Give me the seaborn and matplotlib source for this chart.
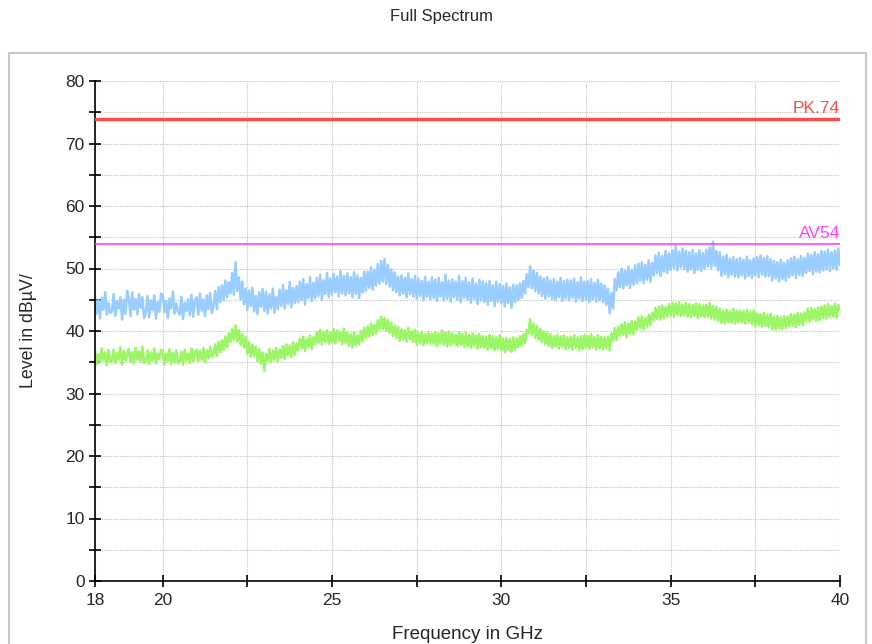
import numpy as np
import pandas as pd
import matplotlib
matplotlib.use("Agg")
import matplotlib.pyplot as plt
from matplotlib.patches import Rectangle
import seaborn as sns

# Sweep: 18 GHz to 40 GHz, 0.05 GHz per point
FREQ_START_GHZ = 18.0
FREQ_STEP_GHZ = 0.05

# Peak detector trace (dBuV), one row per 0.5 GHz
peak_dbuv = [
    45.6, 42.8, 44.9, 42.0, 45.3, 43.4, 46.2, 42.6, 44.5, 42.9,
    43.1, 45.9, 42.4, 44.7, 43.6, 45.4, 41.8, 45.0, 42.7, 46.4,
    45.3, 42.4, 46.2, 43.4, 45.1, 42.7, 45.9, 43.7, 45.4, 42.1,
    42.9, 45.6, 42.2, 44.9, 43.3, 45.7, 42.0, 44.6, 43.1, 46.0,
    45.7, 43.0, 44.8, 42.1, 45.2, 43.6, 46.3, 42.8, 44.4, 43.1,
    42.6, 45.5, 41.9, 44.5, 43.2, 45.1, 42.5, 45.8, 42.3, 44.9,
    45.4, 42.6, 46.0, 43.2, 45.0, 42.4, 45.7, 43.5, 46.1, 42.9,
    44.0, 46.4, 43.5, 47.0, 44.6, 47.3, 44.9, 48.1, 45.4, 47.8,
    46.0, 49.3, 45.8, 51.0, 46.4, 48.6, 45.1, 47.9, 44.3, 46.8,
    43.4, 46.5, 44.0, 46.9, 43.1, 45.6, 42.7, 46.2, 43.9, 46.7,
    43.2, 46.3, 42.8, 45.9, 43.6, 46.8, 42.9, 45.4, 43.5, 46.6,
    44.0, 47.4, 43.6, 46.5, 44.3, 47.8, 43.8, 46.9, 44.5, 47.2,
    44.6, 47.9, 45.0, 48.3, 44.2, 47.5, 45.3, 48.6, 44.8, 47.7,
    45.2, 48.5, 45.6, 49.0, 45.0, 48.1, 45.9, 49.3, 45.4, 48.4,
    45.8, 49.1, 46.2, 48.7, 45.5, 49.6, 46.0, 48.8, 45.7, 49.2,
    46.0, 48.6, 45.4, 49.4, 45.9, 48.9, 45.3, 48.5, 46.1, 49.5,
    46.4, 49.5, 46.9, 50.2, 46.6, 49.8, 47.3, 50.7, 47.6, 51.2,
    47.9, 51.5, 47.5, 50.6, 47.1, 49.9, 46.5, 49.4, 46.2, 48.7,
    45.7, 48.9, 46.0, 48.5, 45.4, 49.2, 45.9, 48.3, 45.5, 48.8,
    45.2, 48.4, 45.6, 48.0, 44.9, 48.7, 45.4, 47.9, 45.1, 48.6,
    45.3, 48.2, 44.8, 48.5, 45.5, 47.8, 44.9, 49.0, 45.2, 48.1,
    44.7, 48.3, 45.4, 47.9, 45.0, 48.8, 44.6, 48.0, 45.3, 48.5,
    45.0, 47.8, 44.5, 48.4, 45.1, 47.6, 44.3, 48.2, 44.9, 47.9,
    44.6, 47.7, 44.2, 48.0, 44.8, 47.3, 44.0, 47.9, 44.7, 47.5,
    44.4, 47.2, 43.9, 47.6, 44.5, 47.0, 43.7, 47.4, 44.6, 47.3,
    44.9, 47.6, 45.3, 48.0, 46.0, 49.1, 47.0, 50.4, 46.8, 49.7,
    46.4, 49.3, 46.0, 48.7, 45.6, 48.4, 45.2, 48.6, 45.5, 48.1,
    45.1, 48.3, 44.9, 47.9, 45.4, 48.5, 44.8, 48.0, 45.2, 48.2,
    44.9, 48.1, 45.3, 48.4, 44.7, 47.8, 45.2, 48.6, 44.8, 47.9,
    45.0, 48.0, 44.6, 48.3, 45.1, 47.7, 44.7, 48.2, 44.9, 47.6,
    44.6, 47.3, 44.2, 46.8, 42.8, 46.1, 43.6, 48.3, 46.5, 49.4,
    47.0, 50.0, 46.8, 49.7, 47.3, 50.3, 46.9, 49.8, 47.4, 50.5,
    47.6, 50.8, 48.0, 51.0, 47.7, 50.6, 48.2, 51.3, 47.9, 50.9,
    48.9, 52.1, 49.2, 52.5, 48.8, 52.0, 49.5, 52.8, 49.3, 52.4,
    49.8, 52.9, 50.0, 53.6, 49.7, 52.7, 50.2, 53.2, 49.9, 52.8,
    49.5, 52.6, 49.9, 53.0, 49.3, 52.4, 49.8, 52.9, 49.6, 52.5,
    50.0, 53.0, 50.3, 53.4, 50.1, 54.3, 50.4, 52.8, 49.7, 52.6,
    48.8, 51.9, 49.1, 52.2, 48.6, 51.6, 49.0, 51.8, 48.7, 51.5,
    48.6, 51.7, 48.9, 51.4, 48.4, 51.9, 48.8, 51.3, 48.5, 51.6,
    48.9, 51.8, 48.6, 52.1, 49.0, 51.7, 48.7, 52.0, 48.8, 51.5,
    48.1, 51.2, 48.4, 51.0, 47.9, 51.4, 48.3, 50.9, 48.0, 51.3,
    48.6, 51.6, 48.9, 51.9, 48.5, 51.5, 49.0, 52.0, 48.8, 51.7,
    49.3, 52.4, 49.6, 52.2, 49.1, 52.6, 49.5, 52.3, 49.4, 52.8,
    49.7, 52.7, 49.9, 53.0, 49.6, 52.6, 50.0, 52.9, 49.8, 53.2,
    50.5,
]

# Average detector trace (dBuV), one row per 0.5 GHz
average_dbuv = [
    36.9, 34.7, 36.3, 35.0, 37.2, 35.3, 36.6, 34.5, 37.0, 35.1,
    35.2, 37.0, 34.9, 36.5, 35.4, 37.4, 34.6, 36.8, 35.3, 36.4,
    37.1, 35.0, 36.6, 34.8, 37.3, 35.4, 36.7, 35.1, 37.5, 34.9,
    35.1, 36.9, 34.7, 36.6, 35.3, 37.2, 34.8, 36.4, 35.5, 37.0,
    36.8, 34.6, 36.4, 35.2, 37.1, 34.7, 36.5, 35.0, 36.9, 34.8,
    35.0, 36.7, 34.6, 37.0, 35.3, 36.4, 34.9, 37.2, 35.1, 36.6,
    37.0, 35.2, 36.8, 35.4, 37.3, 35.0, 36.9, 35.6, 37.5, 35.8,
    36.2, 37.9, 36.0, 38.3, 36.6, 38.5, 37.0, 39.1, 37.4, 39.6,
    38.2, 40.3, 38.6, 40.9, 38.3, 40.1, 37.8, 39.5, 37.4, 39.0,
    36.3, 38.2, 35.9, 37.8, 36.0, 37.5, 35.2, 37.1, 34.8, 36.6,
    33.6, 36.3, 35.2, 37.1, 35.0, 36.9, 35.4, 37.3, 35.1, 37.0,
    35.7, 37.6, 35.5, 37.9, 36.0, 37.7, 35.8, 38.2, 36.2, 38.0,
    36.9, 38.8, 37.2, 39.1, 36.8, 38.7, 37.4, 39.3, 37.1, 39.0,
    37.9, 39.8, 38.1, 40.2, 37.8, 39.9, 38.3, 40.1, 37.9, 39.7,
    38.2, 40.3, 38.0, 40.1, 38.4, 39.9, 37.9, 40.4, 38.1, 39.8,
    37.6, 39.5, 37.4, 39.8, 37.7, 39.3, 37.9, 40.0, 38.3, 40.5,
    38.8, 40.7, 39.1, 41.2, 39.4, 41.0, 39.6, 41.7, 40.2, 42.3,
    40.3, 42.1, 40.0, 41.8, 39.7, 41.3, 39.2, 40.9, 38.9, 40.6,
    38.4, 40.3, 38.6, 40.1, 38.3, 40.5, 38.7, 40.0, 38.2, 40.2,
    37.8, 39.7, 38.0, 39.9, 37.7, 39.5, 38.1, 39.8, 37.9, 39.6,
    37.9, 39.8, 37.6, 39.6, 38.0, 40.1, 37.8, 39.7, 37.5, 39.9,
    37.7, 39.6, 37.9, 39.4, 37.6, 39.8, 37.8, 39.5, 37.5, 39.7,
    37.5, 39.4, 37.3, 39.6, 37.6, 39.3, 37.2, 39.5, 37.4, 39.2,
    37.3, 39.1, 37.0, 39.4, 37.2, 39.2, 36.9, 39.0, 37.1, 39.3,
    36.9, 38.8, 36.6, 38.9, 37.0, 38.7, 36.7, 39.0, 36.9, 38.8,
    37.4, 39.2, 37.6, 39.5, 38.1, 40.2, 39.6, 41.9, 39.3, 41.2,
    38.9, 40.8, 38.6, 40.3, 38.2, 39.9, 37.9, 39.8, 37.6, 39.5,
    37.3, 39.2, 37.5, 39.4, 37.2, 39.1, 37.4, 39.3, 37.1, 39.0,
    37.2, 39.1, 37.0, 39.3, 37.3, 39.0, 36.9, 39.2, 37.1, 39.4,
    37.3, 39.2, 37.1, 39.5, 37.4, 39.0, 37.0, 39.3, 37.2, 39.1,
    37.0, 39.0, 37.2, 39.1, 36.9, 39.6, 38.4, 40.5, 38.6, 40.7,
    39.2, 41.1, 39.4, 41.4, 39.0, 41.2, 39.6, 41.6, 39.5, 41.5,
    40.2, 42.2, 40.5, 42.4, 40.3, 42.1, 40.7, 42.6, 40.9, 42.9,
    41.7, 43.7, 41.9, 43.9, 41.8, 44.1, 42.0, 43.8, 42.3, 44.3,
    42.5, 44.5, 42.3, 44.4, 42.6, 44.6, 42.4, 44.2, 42.5, 44.5,
    42.3, 44.3, 42.2, 44.2, 42.4, 44.4, 42.1, 44.3, 42.3, 44.1,
    42.2, 44.2, 42.3, 44.5, 42.0, 44.0, 41.8, 43.9, 41.6, 43.6,
    41.3, 43.3, 41.2, 43.4, 41.4, 43.2, 41.3, 43.5, 41.2, 43.3,
    41.3, 43.3, 41.4, 43.2, 41.2, 43.4, 41.3, 43.1, 41.1, 43.3,
    40.8, 42.8, 40.9, 42.7, 40.7, 42.9, 40.8, 42.6, 40.6, 42.8,
    40.3, 42.3, 40.2, 42.4, 40.4, 42.2, 40.3, 42.4, 40.5, 42.3,
    40.7, 42.7, 40.8, 42.6, 40.6, 42.9, 41.0, 42.8, 40.9, 43.0,
    41.6, 43.6, 41.5, 43.7, 41.8, 43.5, 41.6, 43.8, 41.7, 43.9,
    42.1, 44.1, 42.0, 44.3, 42.2, 44.0, 42.3, 44.4, 42.1, 44.2,
    43.4,
]

# Limit lines
limit_names = ["PK.74", "AV54"]
limit_levels = [74, 54]
limit_colors = ["#FF4B4B", "#FF44FF"]
limit_widths = [2.4, 1.2]

x_ticks = [18, 20, 22.5, 25, 27.5, 30, 32.5, 35, 37.5, 40]
x_tick_labels = ["18", "20", "", "25", "", "30", "", "35", "", "40"]
y_major = [0, 10, 20, 30, 40, 50, 60, 70, 80]
y_minor = [5, 15, 25, 35, 45, 55, 65, 75]

freq = np.round(FREQ_START_GHZ + FREQ_STEP_GHZ * np.arange(len(peak_dbuv)), 3)
df = pd.concat([
    pd.DataFrame({"freq": freq, "level": peak_dbuv, "trace": "Peak"}),
    pd.DataFrame({"freq": freq, "level": average_dbuv, "trace": "Average"}),
])

sns.set_style("white")
plt.rcParams["font.family"] = ["Liberation Sans", "DejaVu Sans"]

fig = plt.figure(figsize=(8.72, 6.44), dpi=100)
ax = fig.add_axes([95 / 872, 1 - 581 / 644, 745 / 872, 500 / 644])

# Light panel frame around the plotting area
fig.patches.append(Rectangle((9 / 872, -0.02), 857 / 872, 1.02 - 53 / 644,
                             transform=fig.transFigure, fill=False,
                             edgecolor="#C8C8C8", linewidth=1.5))

sns.lineplot(data=df, x="freq", y="level", hue="trace",
             palette={"Peak": "#99CCFF", "Average": "#9CF566"},
             hue_order=["Peak", "Average"], estimator=None, sort=False,
             linewidth=1.8, legend=False, ax=ax)

for name, lvl, col, lw in zip(limit_names, limit_levels, limit_colors, limit_widths):
    ax.axhline(lvl, color=col, linewidth=lw, zorder=3)
    ax.text(40, lvl + 0.4, name, color=col, fontsize=12.5,
            ha="right", va="bottom")

ax.set_xlim(18, 40)
ax.set_ylim(0, 80)
ax.set_xticks(x_ticks)
ax.set_xticklabels(x_tick_labels)
ax.set_yticks(y_major)
ax.set_yticks(y_minor, minor=True)

ax.grid(True, which="both", color="#C4C4C4", linestyle=(0, (1, 1)), linewidth=0.8)
ax.set_axisbelow(True)
for side in ["top", "right"]:
    ax.spines[side].set_visible(False)
for side in ["left", "bottom"]:
    ax.spines[side].set_color("black")
    ax.spines[side].set_linewidth(1.2)

ax.tick_params(which="both", bottom=True, left=True, direction="inout",
               length=9, width=1.2, color="black", labelsize=12.5)
ax.tick_params(axis="y", pad=3)
ax.tick_params(axis="x", pad=4)

ax.set_xlabel("Frequency in GHz", fontsize=13.5, labelpad=13)
ax.set_ylabel("Level in dBµV/", fontsize=12.8, labelpad=20)
fig.text(441 / 872, 1 - 17 / 644, "Full Spectrum", ha="center", va="center",
         fontsize=12)

fig.savefig("out.png", dpi=100)
